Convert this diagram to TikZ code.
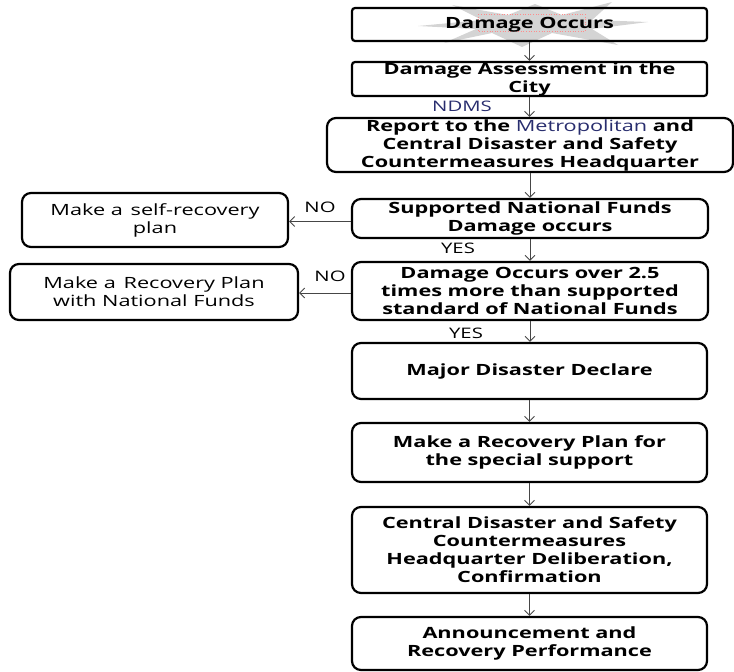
\documentclass[tikz,border=0pt]{standalone}
\usepackage{fontspec}
\setmainfont{Open Sans}[FakeStretch=1.4]
\usetikzlibrary{arrows.meta}
\definecolor{navy}{RGB}{40,45,110}
\definecolor{arrowgray}{RGB}{70,70,70}
\begin{document}
\begin{tikzpicture}[x=1pt,y=-1pt,
  box/.style={draw=black, line width=2.2pt, rounded corners=9pt, align=center, inner sep=0pt,
    font=\bfseries\fontsize{15.5}{18}\selectfont},
  sbox/.style={box, rounded corners=3pt},
  lbox/.style={box, font=\fontsize{15.5}{18}\selectfont},
  flow/.style={draw=arrowgray, line width=0.9pt, -{Straight Barb[length=5pt,width=10pt]}},
  lbl/.style={font=\fontsize{14.5}{16}\selectfont, inner sep=0pt}]
\useasboundingbox (0,0) rectangle (734,672);
% starburst behind the first box
\fill[gray!40, opacity=0.85] (418,26) -- (482,20) -- (452,5) -- (508,15) -- (535,4) -- (562,15)
  -- (612,2) -- (592,20) -- (648,22) -- (592,29) -- (618,45) -- (552,33) -- (522,47)
  -- (492,33) -- (444,43) -- (476,29) -- cycle;
\draw[red!45, dotted, line width=0.6pt] (478,14) rectangle (585,31);
% main column
\node[sbox, minimum width=355pt, minimum height=33pt] (b1) at (529.5,24.5) {Damage Occurs};
\node[sbox, minimum width=355pt, minimum height=34pt] (b2) at (529.5,79) {Damage Assessment in the\\City};
\node[box, minimum width=406pt, minimum height=54pt] (b3) at (530,145)
  {Report to the {\mdseries\color{navy}Metropolitan} and\\Central Disaster and Safety\\Countermeasures Headquarter};
\node[box, minimum width=356pt, minimum height=39pt] (b4) at (530,218.5) {Supported National Funds\\Damage occurs};
\node[box, minimum width=356pt, minimum height=58pt] (b5) at (530,291)
  {Damage Occurs over 2.5\\times more than supported\\standard of National Funds};
\node[box, minimum width=355pt, minimum height=56pt] (b6) at (529.5,371) {Major Disaster Declare};
\node[box, minimum width=355pt, minimum height=59pt] (b7) at (529.5,452.5) {Make a Recovery Plan for\\the special support};
\node[box, minimum width=355pt, minimum height=86pt] (b8) at (529.5,550)
  {Central Disaster and Safety\\Countermeasures\\Headquarter Deliberation,\\Confirmation};
\node[box, minimum width=355pt, minimum height=53pt] (b9) at (529.5,643.5) {Announcement and\\Recovery Performance};
% side boxes
\node[lbox, minimum width=266pt, minimum height=54pt] (l1) at (155,220) {Make a\hspace{0.5em}self-recovery\\plan};
\node[lbox, minimum width=288pt, minimum height=56pt] (l2) at (154,292) {Make a\hspace{0.5em}Recovery Plan\\with National Funds};
% connectors
\draw[flow] (b1.south) -- (b1.south |- b2.north);
\draw[flow] (b2.south) -- (b2.south |- b3.north);
\draw[flow] (b3.south) -- (b3.south |- b4.north);
\draw[flow] (b4.south) -- (b4.south |- b5.north);
\draw[flow] (b5.south) -- (b5.south |- b6.north);
\draw[flow] (b6.south) -- (b6.south |- b7.north);
\draw[flow] (b7.south) -- (b7.south |- b8.north);
\draw[flow] (b8.south) -- (b8.south |- b9.north);
\draw[flow] ([yshift=-3pt]b4.west) -- ([yshift=-3pt]b4.west -| l1.east);
\draw[flow] ([yshift=-2pt]b5.west) -- ([yshift=-2pt]b5.west -| l2.east);
% labels
\node[lbl, text=navy] (ndms) at (462,106) {NDMS};
\node[lbl] (yes1) at (458,248) {YES};
\node[lbl] (yes2) at (466,333) {YES};
\node[lbl] (no1) at (320,207) {NO};
\node[lbl] (no2) at (330,276) {NO};
\end{tikzpicture}
\end{document}
